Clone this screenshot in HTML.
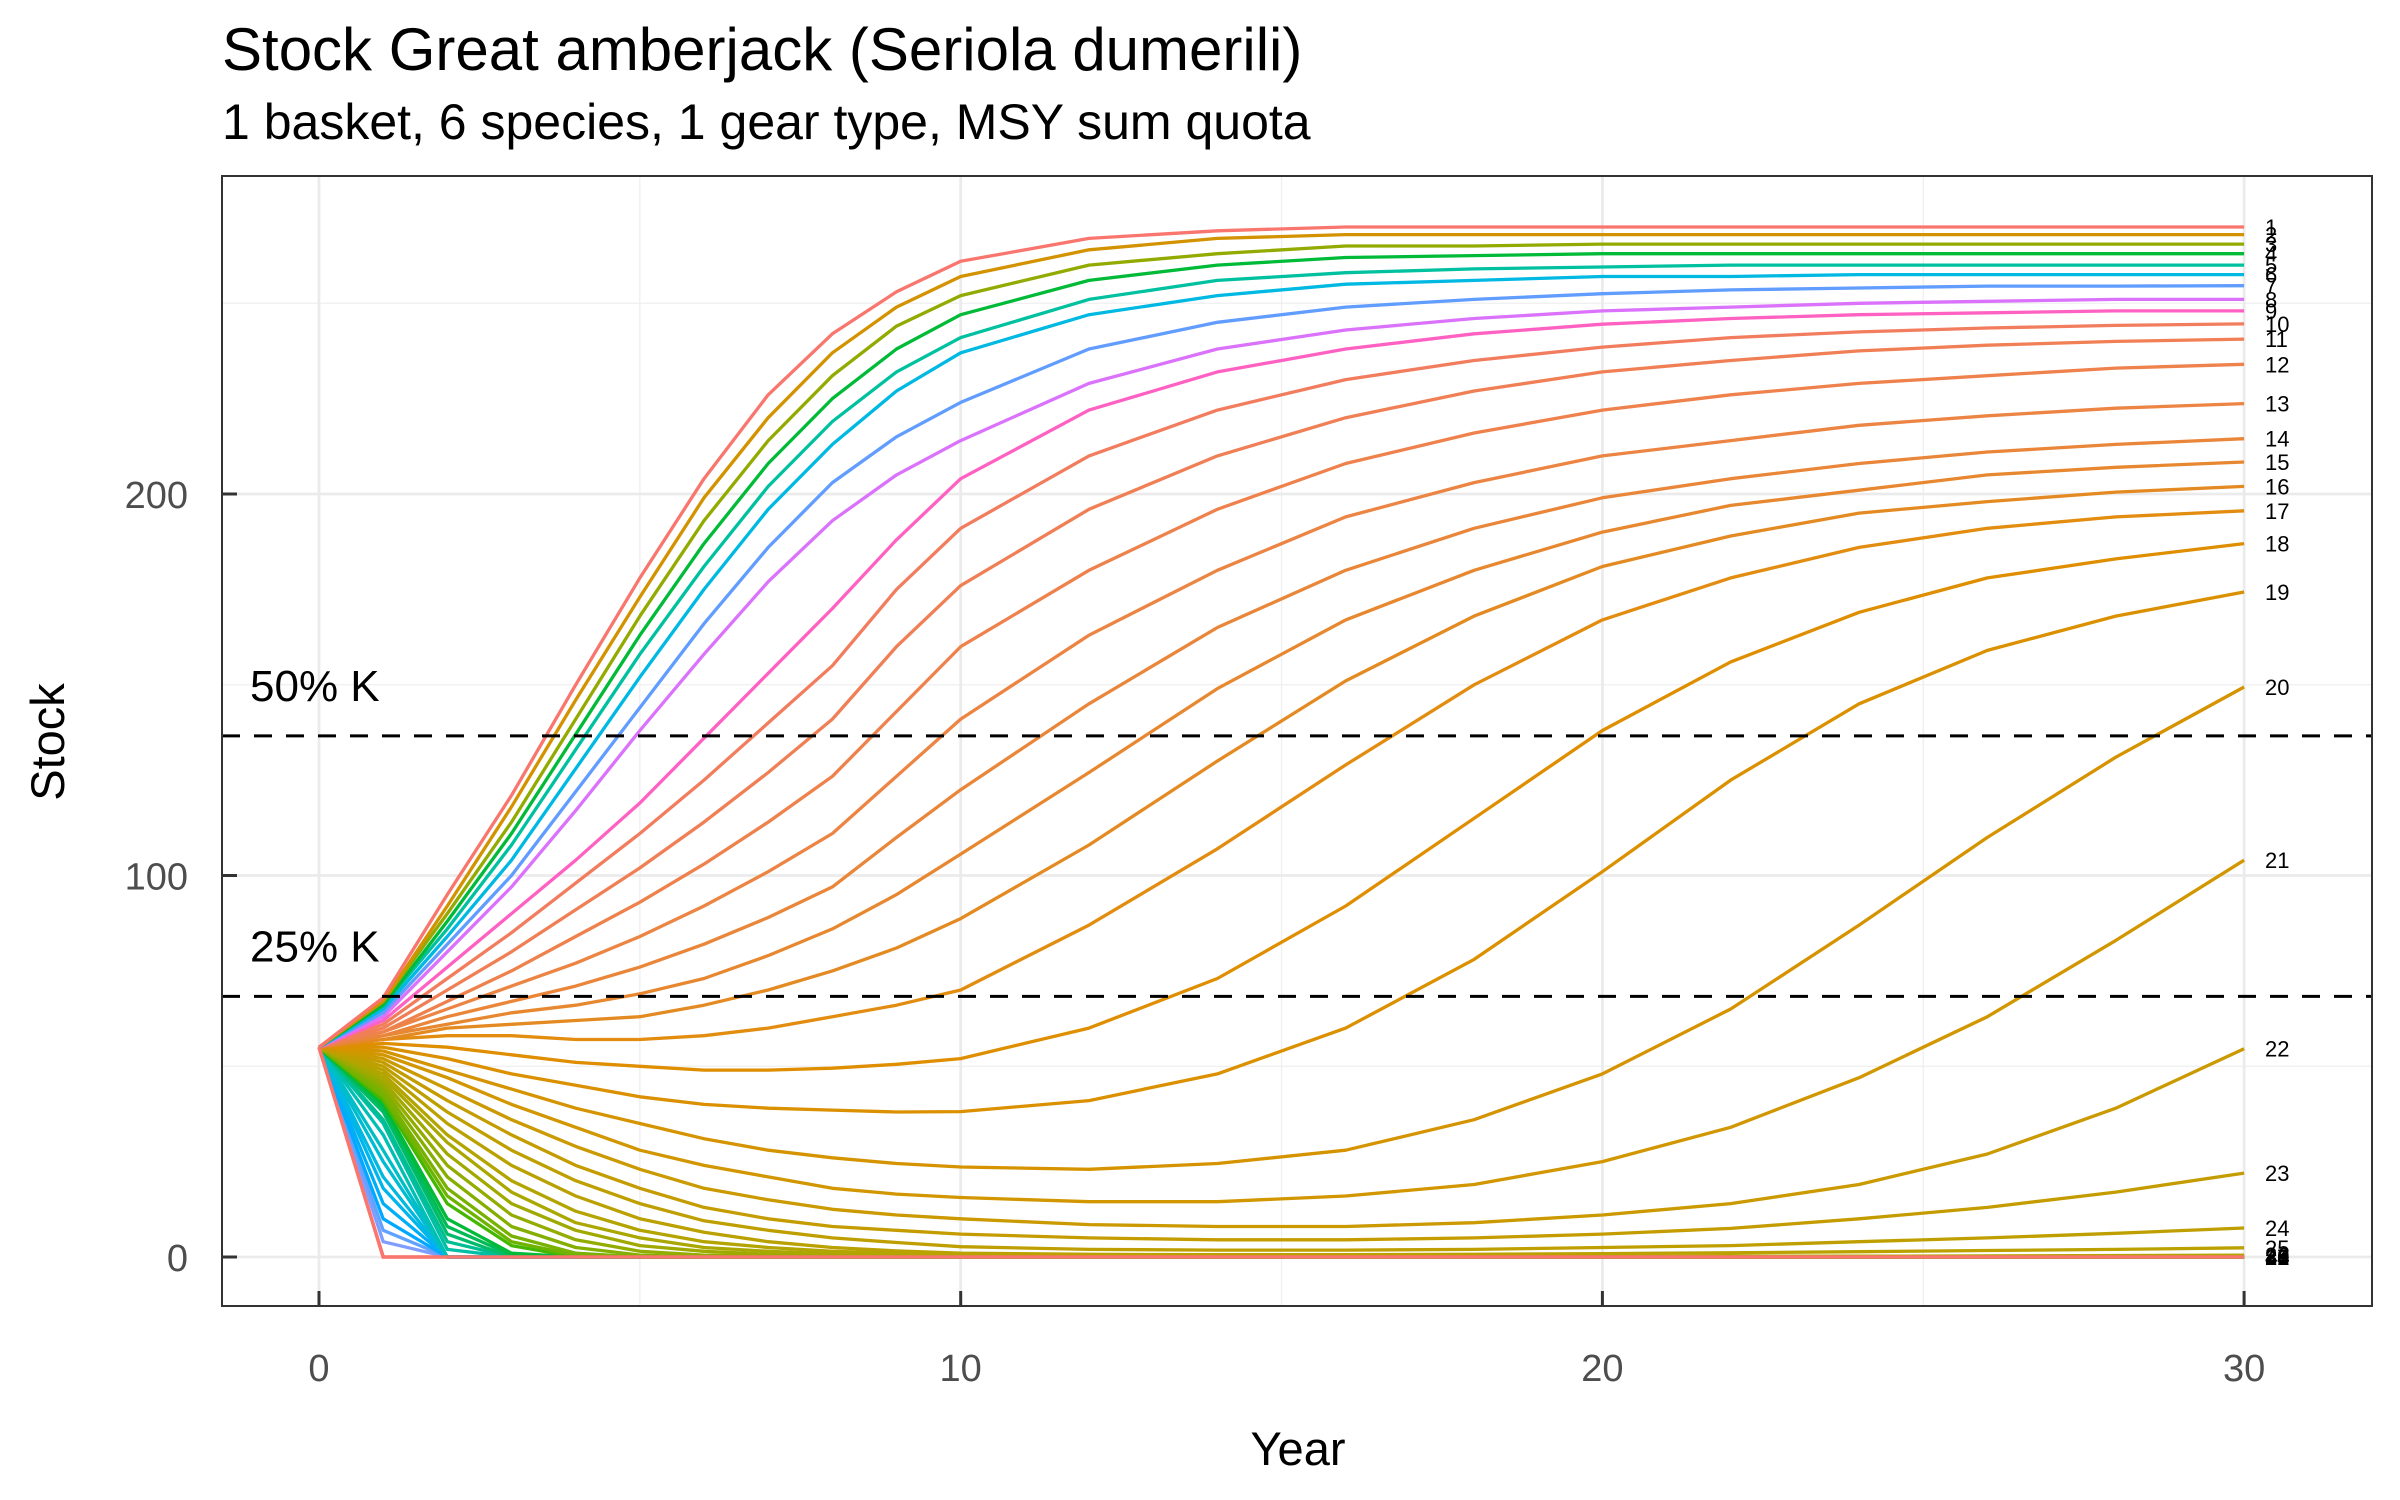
<!DOCTYPE html>
<html><head><meta charset="utf-8"><style>
html,body{margin:0;padding:0;background:#fff;}
svg{display:block;font-family:"Liberation Sans",Arial,sans-serif;}
</style></head><body>
<svg id="chart" width="2400" height="1500" viewBox="0 0 2400 1500">
<text x="222" y="70" font-size="60" fill="#000">Stock Great amberjack (Seriola dumerili)</text>
<text x="222" y="139" font-size="50" fill="#000">1 basket, 6 species, 1 gear type, MSY sum quota</text>
<rect x="222" y="176" width="2150" height="1130" fill="#fff"/>
<g id="grid"></g>
<g id="series"></g>
<g id="refs"></g>
<g id="labels"></g>
<rect x="222" y="176" width="2150" height="1130" fill="none" stroke="#333" stroke-width="2"/>
<g id="axes"></g>
<text x="1298" y="1465" font-size="47" text-anchor="middle" fill="#000">Year</text>
<text transform="translate(64,742) rotate(-90)" font-size="47" text-anchor="middle" fill="#000">Stock</text>
</svg>
<script>
const years = [0,1,2,3,4,5,6,7,8,9,10,12,14,16,18,20,22,24,26,28,30];
const xTicks = [0,10,20,30];
const yTicks = [0,100,200];
const refValues = [136.6,68.3];
const refLabels = ["50% K","25% K"];
const s1 = [55,68,95,121,150,178,204,226,242,253,261,267,269,270,270,270,270,270,270,270,270];
const s2 = [55,67,92,118,146,173,199,220,237,249,257,264,267,268,268,268,268,268,268,268,268];
const s3 = [55,67,90,114,141,168,193,214,231,244,252,260,263,265,265,265.5,265.5,265.5,265.5,265.5,265.5];
const s4 = [55,66,88,111,137,163,187,208,225,238,247,256,260,262,262.5,263,263,263,263,263,263];
const s5 = [55,66,86,108,133,158,181,202,219,232,241,251,256,258,259,259.5,260,260,260,260,260];
const s6 = [55,65,84,104,128,152,175,196,213,227,237,247,252,255,256,257,257,257.5,257.5,257.5,257.5];
const s7 = [55,64,82,100,122,144,166,186,203,215,224,238,245,249,251,252.5,253.5,254,254.5,254.5,254.6];
const s8 = [55,63,80,97,117,138,158,177,193,205,214,229,238,243,246,248,249,250,250.5,251,251];
const s9 = [55,62,76,90,104,119,136,153,170,188,204,222,232,238,242,244.5,246,247,247.5,248,248];
const s10 = [55,61,73,85,98,111,125,140,155,175,191,210,222,230,235,238.5,241,242.5,243.5,244.2,244.6];
const s11 = [55,60,70,80,91,102,114,127,141,160,176,196,210,220,227,232,235,237.5,239,240,240.6];
const s12 = [55,59,67,75,84,93,103,114,126,143,160,180,196,208,216,222,226,229,231,233,234];
const s13 = [55,59,65,71,77,84,92,101,111,126,141,163,180,194,203,210,214,218,220.5,222.5,223.7];
const s14 = [55,58,63,67,71,76,82,89,97,110,122.5,145,165,180,191,199,204,208,211,213,214.5];
const s15 = [55,58,61,64,66,69,73,79,86,95,105.6,127,149,167,180,190,197,201,205,207,208.4];
const s16 = [55,57,60,61,62,63,66,70,75,81,88.7,108,130,151,168,181,189,195,198,200.5,202];
const s17 = [55,57,58,58,57,57,58,60,63,66,70,87,107,129,150,167,178,186,191,194,195.6];
const s18 = [55,56,55,53,51,50,49,49,49.5,50.5,52,60,73,92,115,138,156,169,178,183,187];
const s19 = [55,55,52,48,45,42,40,39,38.5,38,38.1,41,48,60,78,101,125,145,159,168,174.3];
const s20 = [55,54,49,44,39,35,31,28,26,24.5,23.6,23,24.5,28,36,48,65,87,110,131,149.4];
const s21 = [55,53,47,40,34,28,24,21,18,16.5,15.6,14.5,14.5,16,19,25,34,47,63,83,104];
const s22 = [55,52,44,36,29,23,18,15,12.5,11,10,8.5,8,8,9,11,14,19,27,39,54.6];
const s23 = [55,51,41,32,24,18,13,10,8,7,6,5,4.5,4.5,5,6,7.5,10,13,17,22];
const s24 = [55,50,38,28,20,14,9.5,7,5,3.8,2.7,2,1.8,1.8,2,2.5,3,4,5,6.2,7.6];
const s25 = [55,49,35,24,16,10,6.5,4,2.5,1.6,1,0.7,0.6,0.6,0.7,0.9,1.1,1.4,1.7,2,2.4];
const c1 = [55,48,32,20,12,7,4,2.5,1.5,1,0.6,0.3,0.2,0.1,0.1,0.1,0.2,0.2,0.3,0.4,0.5];
const c2 = [55,47,30,17,9,5,2.5,1.5,0.8,0.5,0.3,0.1,0,0,0,0,0,0,0,0,0];
const c3 = [55,46,27,14,7,3,1.5,0.7,0.3,0.1,0,0,0,0,0,0,0,0,0,0,0];
const c4 = [55,45,24,11,4.5,1.5,0.5,0.2,0,0,0,0,0,0,0,0,0,0,0,0,0];
const c5 = [55,44,21,8,2.5,0.5,0,0,0,0,0,0,0,0,0,0,0,0,0,0,0];
const c6 = [55,43,18,5.5,1,0,0,0,0,0,0,0,0,0,0,0,0,0,0,0,0];
const c7 = [55,42,16,4,0.5,0,0,0,0,0,0,0,0,0,0,0,0,0,0,0,0];
const c8 = [55,41,14,3,0,0,0,0,0,0,0,0,0,0,0,0,0,0,0,0,0];
const c9 = [55,40,10,1,0,0,0,0,0,0,0,0,0,0,0,0,0,0,0,0,0];
const c10 = [55,39,8,0.5,0,0,0,0,0,0,0,0,0,0,0,0,0,0,0,0,0];
const c11 = [55,38,6,0,0,0,0,0,0,0,0,0,0,0,0,0,0,0,0,0,0];
const c12 = [55,36,4,0,0,0,0,0,0,0,0,0,0,0,0,0,0,0,0,0,0];
const c13 = [55,35,2,0,0,0,0,0,0,0,0,0,0,0,0,0,0,0,0,0,0];
const c14 = [55,32,0,0,0,0,0,0,0,0,0,0,0,0,0,0,0,0,0,0,0];
const c15 = [55,28,0,0,0,0,0,0,0,0,0,0,0,0,0,0,0,0,0,0,0];
const c16 = [55,25,0,0,0,0,0,0,0,0,0,0,0,0,0,0,0,0,0,0,0];
const c17 = [55,21,0,0,0,0,0,0,0,0,0,0,0,0,0,0,0,0,0,0,0];
const c18 = [55,18,0,0,0,0,0,0,0,0,0,0,0,0,0,0,0,0,0,0,0];
const c19 = [55,14,0,0,0,0,0,0,0,0,0,0,0,0,0,0,0,0,0,0,0];
const c20 = [55,10,0,0,0,0,0,0,0,0,0,0,0,0,0,0,0,0,0,0,0];
const c21 = [55,7,0,0,0,0,0,0,0,0,0,0,0,0,0,0,0,0,0,0,0];
const c22 = [55,4,0,0,0,0,0,0,0,0,0,0,0,0,0,0,0,0,0,0,0];
const c23 = [55,0,0,0,0,0,0,0,0,0,0,0,0,0,0,0,0,0,0,0,0];
const seriesList = [s1,s2,s3,s4,s5,s6,s7,s8,s9,s10,s11,s12,s13,s14,s15,s16,s17,s18,s19,s20,s21,s22,s23,s24,s25,c1,c2,c3,c4,c5,c6,c7,c8,c9,c10,c11,c12,c13,c14,c15,c16,c17,c18,c19,c20,c21,c22,c23];
const colors = ["#F8766D","#D39200","#93AA00","#00BA38","#00C19F","#00B9E3","#619CFF","#DB72FB","#FF61C3",
"#F27D5E","#F07F55","#EE814C","#EC8443","#E9863A","#E78830","#E48A22","#E28C10","#DF8E00","#DB9000","#D69300","#D19600","#CB9900","#C59C00","#BF9F00","#BAA100",
"#B3A400","#AAA700","#A0A900","#93AC00","#84AF00","#78B100","#6EB300","#45B700","#00BA38","#00BB55","#00BC6A","#00BE92","#00BFA5","#00BFB4","#00BDC6","#00BCD3","#00B8E0","#00B5EC","#00AEF8","#00A9FF","#5FA2FF","#7F9DFF","#F8766D"];

const NS="http://www.w3.org/2000/svg";
const X0=319, XS=64.17, Y0=1257, YS=3.815, PL=222, PR=2372, PT=176, PB=1306;
const xs = t => X0 + t*XS;
const ys = v => Y0 - v*YS;
function mk(tag, attrs, parent){const e=document.createElementNS(NS,tag);for(const k in attrs)e.setAttribute(k,attrs[k]);parent.appendChild(e);return e;}

const grid=document.getElementById('grid');
[5,15,25].forEach(t=>{const l=mk('line',{x1:xs(t),x2:xs(t),y1:PT,y2:PB,stroke:'#EFEFEF','stroke-width':1.3},grid);

});
[50,150,250].forEach(v=>{const l=mk('line',{x1:PL,x2:PR,y1:ys(v),y2:ys(v),stroke:'#EFEFEF','stroke-width':1.3},grid);

});
xTicks.forEach(t=>{const l=mk('line',{x1:xs(t),x2:xs(t),y1:PT,y2:PB,stroke:'#EBEBEB','stroke-width':2.8},grid);

});
yTicks.forEach(v=>{const l=mk('line',{x1:PL,x2:PR,y1:ys(v),y2:ys(v),stroke:'#EBEBEB','stroke-width':2.8},grid);

});

const sg=document.getElementById('series');
const lg=document.getElementById('labels');
const order=[...seriesList.keys()].reverse();
order.forEach(i=>{
  const d=seriesList[i];
  const pts=years.map((t,j)=>xs(t).toFixed(1)+','+ys(d[j]).toFixed(1)).join(' ');
  const p=mk('polyline',{points:pts,fill:'none',stroke:colors[i],'stroke-width':3.3,'stroke-linejoin':'round'},sg);
  
  
});
{
  const i=seriesList.length-1, d=seriesList[i];
  const pts=years.map((t,j)=>xs(t).toFixed(1)+','+ys(d[j]).toFixed(1)).join(' ');
  const p=mk('polyline',{points:pts,fill:'none',stroke:colors[i],'stroke-width':3.6},sg);
  
  
}
seriesList.forEach((d,i)=>{
  const v=d[d.length-1];
  const t=mk('text',{x:2265,y:ys(v)+8,'font-size':22,fill:'#000'},lg);
  t.textContent=String(i+1);
  
  
});

const rg=document.getElementById('refs');
refValues.forEach((v,i)=>{
  const l=mk('line',{x1:PL,x2:PR,y1:ys(v),y2:ys(v),stroke:'#000','stroke-width':3,'stroke-dasharray':'18,14'},rg);
  
  
  const t=mk('text',{x:250,y:ys(v)-35,'font-size':44,fill:'#000'},rg);
  t.textContent=refLabels[i];
  
  
});

const ag=document.getElementById('axes');
xTicks.forEach(t=>{
  const l=mk('line',{x1:xs(t),x2:xs(t),y1:PB,y2:PB-15,stroke:'#333','stroke-width':3},ag);
  
  
  const tx=mk('text',{x:xs(t),y:1381,'font-size':38,'text-anchor':'middle',fill:'#4D4D4D'},ag);
  tx.textContent=String(t);
  
  
});
yTicks.forEach(v=>{
  const l=mk('line',{x1:PL,x2:PL+15,y1:ys(v),y2:ys(v),stroke:'#333','stroke-width':3},ag);
  
  
  const tx=mk('text',{x:188,y:ys(v)+14,'font-size':38,'text-anchor':'end',fill:'#4D4D4D'},ag);
  tx.textContent=String(v);
  
  
});
</script>
</body></html>
